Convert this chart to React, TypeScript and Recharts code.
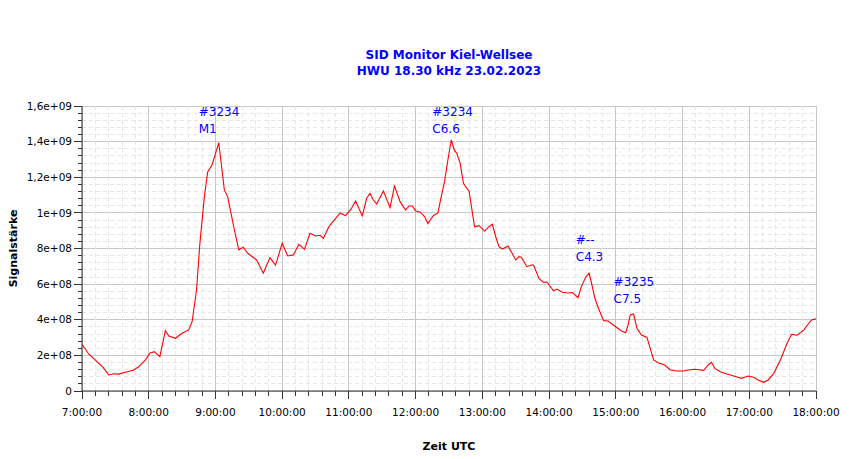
import React from "react";
import { LineChart, Line, XAxis, YAxis, CartesianGrid, ReferenceDot } from "recharts";

// ---- data ----
const times = [
  "7:00", "7:06", "7:13", "7:19", "7:24", "7:28", "7:33", "7:39", "7:46", "7:51", "7:57",
  "8:01", "8:05", "8:10", "8:15", "8:18", "8:24", "8:30", "8:36", "8:39", "8:43", "8:46",
  "8:50", "8:53", "8:57", "9:03", "9:08", "9:11", "9:17", "9:21", "9:25", "9:29", "9:37",
  "9:43", "9:49", "9:54", "10:00", "10:05", "10:10", "10:15", "10:20", "10:25", "10:30",
  "10:34", "10:37", "10:42", "10:46", "10:52", "10:57", "11:02", "11:06", "11:12", "11:16",
  "11:19", "11:22", "11:25", "11:31", "11:37", "11:41", "11:46", "11:51", "11:54", "11:57",
  "12:00", "12:04", "12:08", "12:11", "12:16", "12:20", "12:23", "12:26", "12:29", "12:32",
  "12:35", "12:37", "12:40", "12:43", "12:46", "12:48", "12:53", "12:57", "13:02", "13:05",
  "13:09", "13:12", "13:15", "13:18", "13:23", "13:26", "13:30", "13:33", "13:35", "13:40",
  "13:44", "13:46", "13:51", "13:55", "13:58", "14:04", "14:07", "14:12", "14:17", "14:21",
  "14:26", "14:29", "14:33", "14:36", "14:38", "14:41", "14:44", "14:49", "14:53", "14:59",
  "15:05", "15:09", "15:11", "15:13", "15:16", "15:19", "15:23", "15:28", "15:34", "15:38",
  "15:44", "15:49", "15:55", "16:01", "16:05", "16:11", "16:19", "16:23", "16:26", "16:29",
  "16:34", "16:40", "16:46", "16:53", "16:59", "17:04", "17:08", "17:13", "17:17", "17:22",
  "17:28", "17:34", "17:38", "17:43", "17:49", "17:53", "17:56", "18:00",
];

const signal = [
  2.62e8, 2.08e8, 1.68e8, 1.33e8, 0.9e8, 0.97e8, 0.95e8, 1.05e8, 1.16e8, 1.36e8, 1.74e8,
  2.12e8, 2.21e8, 1.93e8, 3.39e8, 3.09e8, 2.96e8, 3.24e8, 3.43e8, 3.89e8, 5.67e8, 8.29e8,
  10.9e8, 12.3e8, 12.7e8, 13.94e8, 11.29e8, 10.9e8, 9.04e8, 7.92e8, 8.07e8, 7.73e8, 7.36e8,
  6.61e8, 7.49e8, 7.07e8, 8.29e8, 7.58e8, 7.64e8, 8.23e8, 7.95e8, 8.85e8, 8.7e8,
  8.74e8, 8.57e8, 9.22e8, 9.54e8, 9.98e8, 9.85e8, 10.22e8, 10.67e8, 9.83e8, 10.82e8,
  11.1e8, 10.72e8, 10.5e8, 11.23e8, 10.29e8, 11.51e8, 10.63e8, 10.16e8, 10.39e8, 10.39e8,
  10.11e8, 10.05e8, 9.79e8, 9.4e8, 9.85e8, 9.98e8, 10.91e8, 11.75e8, 12.97e8, 14.09e8,
  13.49e8, 13.35e8, 12.79e8, 11.66e8, 11.38e8, 11.23e8, 9.22e8, 9.28e8, 8.98e8, 9.17e8,
  9.36e8, 8.66e8, 8.1e8, 7.97e8, 8.14e8, 7.82e8, 7.36e8, 7.54e8, 7.51e8, 6.98e8,
  7.07e8, 7.07e8, 6.3e8, 6.1e8, 6.12e8, 5.63e8, 5.72e8, 5.54e8, 5.5e8, 5.53e8,
  5.24e8, 5.86e8, 6.4e8, 6.61e8, 6.1e8, 5.25e8, 4.7e8, 3.95e8, 3.93e8, 3.65e8,
  3.37e8, 3.27e8, 3.71e8, 4.27e8, 4.32e8, 3.52e8, 3.14e8, 3.01e8, 1.74e8, 1.59e8,
  1.46e8, 1.18e8, 1.12e8, 1.12e8, 1.18e8, 1.22e8, 1.16e8, 1.46e8, 1.61e8, 1.27e8,
  1.08e8, 0.95e8, 0.84e8, 0.71e8, 0.84e8, 0.77e8, 0.62e8, 0.49e8, 0.62e8, 0.99e8,
  1.74e8, 2.68e8, 3.18e8, 3.13e8, 3.42e8, 3.76e8, 3.99e8, 4.05e8,
];

const flareTimes = ["8:45", "12:15", "14:24", "14:58"];
const flareLevels = [1.545e9, 1.545e9, 8.25e8, 5.91e8];
const flareIds = ["#3234", "#3234", "#--", "#3235"];
const flareClasses = ["M1", "C6.6", "C4.3", "C7.5"];

const titleLines = ["SID Monitor Kiel-Wellsee", "HWU 18.30 kHz 23.02.2023"];
const xAxisTitle = "Zeit UTC";
const yAxisTitle = "Signalstärke";

const START_HOUR = 7;
const END_HOUR = 18;
const Y_MAX = 1.6e9;

// ---- derived ----
const toMinutes = (s: string) => {
  const [h, m] = s.split(":").map(Number);
  return (h - START_HOUR) * 60 + m;
};
const data = times.map((t, i) => ({ t: toMinutes(t), v: signal[i] }));

const X_END = (END_HOUR - START_HOUR) * 60;
const xTicks: number[] = [];
for (let m = 0; m <= X_END; m += 12) xTicks.push(m);
const yTicks: number[] = [];
for (let i = 0; i <= 40; i++) yTicks.push(i * 4e7);

const fmtX = (m: number) => `${START_HOUR + Math.round(m / 60)}:00:00`;
const fmtY = (v: number) => {
  if (v === 0) return "0";
  const e = Math.floor(Math.log10(v) + 1e-9);
  const mant = Math.round((v / Math.pow(10, e)) * 10) / 10;
  const ms = Number.isInteger(mant) ? String(mant) : String(mant).replace(".", ",");
  return `${ms}e+${String(e).padStart(2, "0")}`;
};

// ---- styles ----
const FONT = "'DejaVu Sans', Verdana, sans-serif";
const AXIS = "#333333";
const MAJOR = "#c6c6c6";
const MINOR = "#e6e6e6";
const BLUE = "#0000ff";
const X_TICK_SIZE = 8;
const X_TICK_MARGIN = 10;
const Y_TICK_SIZE = 8;
const Y_TICK_MARGIN = 2;

const XTick = (props: any) => {
  const { x, y, payload } = props;
  const major = payload.value % 60 === 0;
  const y0 = y - X_TICK_SIZE - X_TICK_MARGIN;
  return (
    <g>
      <line x1={x} x2={x} y1={y0} y2={y0 + (major ? 8 : 5)} stroke={AXIS} shapeRendering="crispEdges" />
      {major && (
        <text x={x} y={y} dy="0.71em" textAnchor="middle" fontFamily={FONT} fontSize={10.5} fill="#000">
          {fmtX(payload.value)}
        </text>
      )}
    </g>
  );
};

const YTick = (props: any) => {
  const { x, y, payload } = props;
  const major = payload.value % 2e8 === 0;
  const x0 = x + Y_TICK_SIZE + Y_TICK_MARGIN;
  return (
    <g>
      <line x1={x0 - (major ? 8 : 4)} x2={x0} y1={y} y2={y} stroke={AXIS} shapeRendering="crispEdges" />
      {major && (
        <text x={x} y={y} dy="0.355em" textAnchor="end" fontFamily={FONT} fontSize={10.5} fill="#000">
          {fmtY(payload.value)}
        </text>
      )}
    </g>
  );
};

const gridLine = (prefix: string) => (props: any) => {
  const { index, x1, x2, y1, y2 } = props;
  const major = index % 5 === 0;
  return (
    <line
      key={`${prefix}${index}`}
      x1={x1}
      x2={x2}
      y1={y1}
      y2={y2}
      stroke={major ? MAJOR : MINOR}
      strokeWidth={1}
      strokeDasharray={major ? undefined : "4 3"}
      shapeRendering="crispEdges"
    />
  );
};

const flareShape = (i: number) => (p: any) => (
  <text x={p.cx} y={p.cy} fontFamily={FONT} fontSize={12} fill={BLUE}>
    <tspan x={p.cx}>{flareIds[i]}</tspan>
    <tspan x={p.cx} dy={17}>
      {flareClasses[i]}
    </tspan>
  </text>
);

export default function App() {
  return (
    <div
      style={{
        position: "absolute",
        left: 0,
        top: 0,
        width: 850,
        height: 459,
        background: "#fff",
        fontFamily: FONT,
      }}
    >
      <div
        style={{
          position: "absolute",
          left: 82,
          top: 47,
          width: 734,
          textAlign: "center",
          color: BLUE,
          fontWeight: "bold",
          fontSize: 12,
          lineHeight: "16px",
        }}
      >
        {titleLines.map((l) => (
          <div key={l}>{l}</div>
        ))}
      </div>
      <LineChart
        width={850}
        height={459}
        data={data}
        margin={{ top: 106, right: 34, bottom: 0, left: 0 }}
      >
        <CartesianGrid
          horizontal={gridLine("h")}
          vertical={gridLine("v")}
        />
        <XAxis
          dataKey="t"
          type="number"
          domain={[0, X_END]}
          ticks={xTicks}
          interval={0}
          height={68}
          tickSize={X_TICK_SIZE}
          tickMargin={X_TICK_MARGIN}
          tickLine={false}
          axisLine={{ stroke: AXIS }}
          tick={(p: any) => <XTick {...p} />}
          allowDataOverflow
          label={{
            value: xAxisTitle,
            position: "insideBottom",
            offset: 9,
            style: { fontFamily: FONT, fontSize: 11, fontWeight: "bold", fill: "#000" },
          }}
        />
        <YAxis
          type="number"
          domain={[0, Y_MAX]}
          ticks={yTicks}
          interval={0}
          width={82}
          tickSize={Y_TICK_SIZE}
          tickMargin={Y_TICK_MARGIN}
          tickLine={false}
          axisLine={{ stroke: AXIS }}
          tick={(p: any) => <YTick {...p} />}
          allowDataOverflow
          label={{
            value: yAxisTitle,
            angle: -90,
            position: "insideLeft",
            offset: 13,
            style: {
              fontFamily: FONT,
              fontSize: 11,
              fontWeight: "bold",
              fill: "#000",
              textAnchor: "middle",
            },
          }}
        />
        <Line
          type="linear"
          dataKey="v"
          stroke="#ff0000"
          strokeWidth={1.1}
          dot={false}
          activeDot={false}
          isAnimationActive={false}
        />
        {flareTimes.map((ft, i) => (
          <ReferenceDot
            key={`f${i}`}
            x={toMinutes(ft)}
            y={flareLevels[i]}
            r={0}
            ifOverflow="visible"
            shape={flareShape(i)}
          />
        ))}
      </LineChart>
    </div>
  );
}
